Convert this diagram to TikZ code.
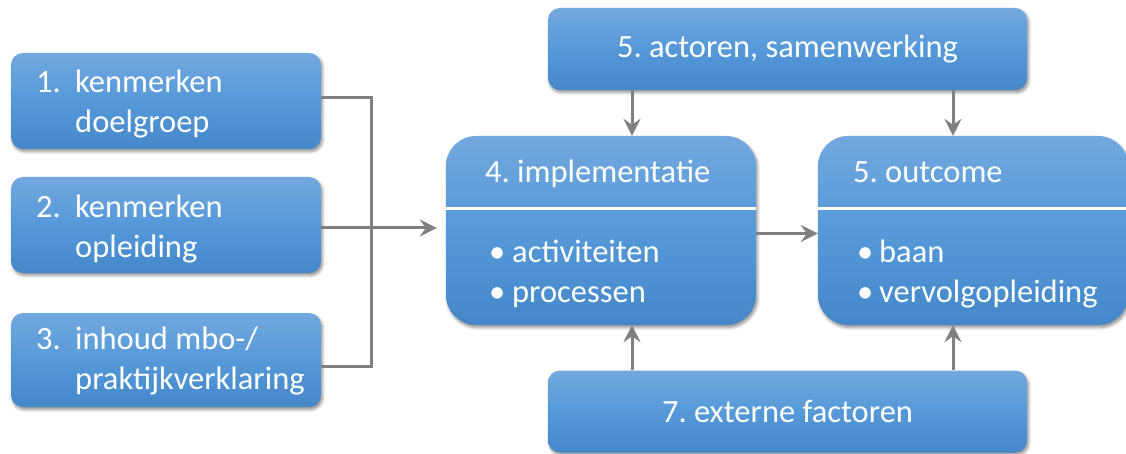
\documentclass[tikz,border=0pt]{standalone}
\usepackage{fontspec}
\setmainfont{Carlito}
\frenchspacing
\usetikzlibrary{arrows.meta,shadows.blur,calc}
\definecolor{btop}{RGB}{114,168,222}
\definecolor{bmid}{RGB}{85,153,217}
\definecolor{bbot}{RGB}{68,136,202}
\definecolor{conn}{RGB}{128,128,128}
\tikzset{
  boxbase/.style={rounded corners=12pt, top color=btop, bottom color=bbot, middle color=bmid,
    draw=none, inner sep=0pt, text=white,
    blur shadow={shadow xshift=1.5pt, shadow yshift=-2.5pt, shadow blur steps=6, shadow opacity=45, shadow blur radius=3pt}},
  smallbox/.style={boxbase, minimum width=310pt},
  bigbox/.style={boxbase, rounded corners=30pt, minimum width=310pt, minimum height=189pt},
  widebox/.style={boxbase, minimum width=479pt, minimum height=82pt},
  lbl/.style={text=white, inner sep=0pt, anchor=base west},
  connline/.style={draw=conn, line width=3pt},
  connarrow/.style={connline, -{Stealth[length=17pt, width=17pt, inset=6pt]}},
}
\begin{document}
\begin{tikzpicture}[x=1pt,y=-1pt, font=\fontsize{32.5}{40}\selectfont\frenchspacing]
\useasboundingbox (0,0) rectangle (1126,454);
% left boxes
\node[smallbox, minimum height=96pt] (b1) at (166,101) {};
\node[smallbox, minimum height=96pt] (b2) at (166,225) {};
\node[smallbox, minimum height=94pt] (b3) at (166,360) {};
\node[lbl] (t1) at (36,93) {\begin{tabular}[t]{@{}p{39pt}@{}l@{}}1.&kenmerken\\&doelgroep\end{tabular}};
\node[lbl] (t2) at (36,218) {\begin{tabular}[t]{@{}p{39pt}@{}l@{}}2.&kenmerken\\&opleiding\end{tabular}};
\node[lbl] (t3) at (36,349) {\begin{tabular}[t]{@{}p{39pt}@{}l@{}}3.&inhoud mbo-/\\&praktijkverklaring\end{tabular}};
% big boxes
\node[bigbox] (b4) at (601,230.5) {};
\node[bigbox] (b5) at (973,230.5) {};
\draw[white, line width=3pt] (b4.west |- 0,209) coordinate (d4a) -- (b4.east |- 0,209) coordinate (d4b);
\draw[white, line width=3pt] (b5.west |- 0,209) coordinate (d5a) -- (b5.east |- 0,209) coordinate (d5b);
\node[lbl] (t4) at (485,183) {4. implementatie};
\node[lbl] (l4) at (489,262) {\begin{tabular}[t]{@{}p{23pt}@{}l@{}}•&activiteiten\\•&processen\end{tabular}};
\node[lbl] (t5) at (853,183) {5. outcome};
\node[lbl] (l5) at (857,262) {\begin{tabular}[t]{@{}p{22pt}@{}l@{}}•&baan\\•&vervolgopleiding\end{tabular}};
% wide boxes
\node[widebox] (b6) at (787.5,49) {5. actoren, samenwerking};
\node[widebox] (b7) at (787.5,411.5) {7. externe factoren};
% connectors
\coordinate (j) at (371,228);
\coordinate (a2) at ([yshift=-3pt]b2.east);
\coordinate (a4) at ([yshift=-3pt]b4.east);
\draw[connline] ([yshift=3pt]b1.east) -| (j);
\draw[connline] ([yshift=-6pt]b3.east) -| (j);
\draw[connarrow, shorten >=9pt] (a2) -- (a2 -| b4.west);
\draw[connarrow] (a4) -- (a4 -| b5.west);
\draw[connarrow] (b6.south -| 632,0) -- (b4.north -| 632,0);
\draw[connarrow] (b6.south -| 953,0) -- (b5.north -| 953,0);
\draw[connarrow] (b7.north -| 632,0) -- (b4.south -| 632,0);
\draw[connarrow] (b7.north -| 953,0) -- (b5.south -| 953,0);
\end{tikzpicture}
\end{document}
